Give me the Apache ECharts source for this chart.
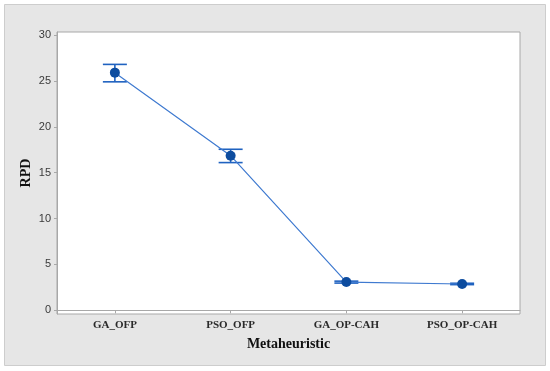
<!DOCTYPE html>
<html>
<head>
<meta charset="utf-8">
<script src="https://cdn.jsdelivr.net/npm/echarts@6/dist/echarts.min.js"></script>
<style>
html,body{margin:0;padding:0;background:#ffffff;}
#chart{width:550px;height:371px;}
</style>
</head>
<body>
<div id="chart"></div>
<script>
const categories = ['GA_OFP', 'PSO_OFP', 'GA_OP-CAH', 'PSO_OP-CAH'];
const means = [25.9, 16.85, 3.08, 2.87];
const lowerCI = [24.9, 16.1, 2.97, 2.80];
const upperCI = [26.8, 17.55, 3.18, 2.95];
const yTicks = [0, 5, 10, 15, 20, 25, 30];

const chart = echarts.init(document.getElementById('chart'), null, {renderer: 'canvas'});
const errData = categories.map((c, i) => [i, lowerCI[i], upperCI[i]]);

const option = {
  animation: false,
  backgroundColor: '#ffffff',
  graphic: [{
    type: 'rect', z: -10, silent: true,
    shape: {x: 4.5, y: 4.5, width: 541, height: 361},
    style: {fill: '#e6e6e6', stroke: '#cdcdcd', lineWidth: 1}
  }],
  grid: {
    left: 57, right: 30, top: 32, bottom: 57,
    show: true, backgroundColor: '#ffffff', borderColor: '#a8a8a8', borderWidth: 1
  },
  xAxis: {
    type: 'category',
    data: categories,
    boundaryGap: true,
    axisLine: {show: true, lineStyle: {color: '#a8a8a8', width: 1}},
    axisTick: {show: true, alignWithLabel: true, length: 3, lineStyle: {color: '#a8a8a8'}},
    axisLabel: {margin: 6, fontFamily: 'Liberation Serif', fontWeight: 'bold', fontSize: 11, color: '#2a2a2a'},
    splitLine: {show: false},
    name: 'Metaheuristic',
    nameLocation: 'middle',
    nameGap: 23,
    nameMoveOverlap: false,
    nameTextStyle: {fontFamily: 'Liberation Serif', fontWeight: 'bold', fontSize: 14, color: '#111111'}
  },
  yAxis: {
    type: 'value',
    min: -0.4,
    max: 30.33,
    axisLine: {show: true, lineStyle: {color: '#a8a8a8', width: 1}},
    axisTick: {show: true, length: 3, customValues: yTicks, lineStyle: {color: '#a8a8a8'}},
    axisLabel: {margin: 6, customValues: yTicks, fontFamily: 'Liberation Sans', fontSize: 11, color: '#3a3a3a'},
    splitLine: {show: false},
    name: 'RPD',
    nameLocation: 'middle',
    nameGap: 24,
    nameMoveOverlap: false,
    nameTextStyle: {fontFamily: 'Liberation Serif', fontWeight: 'bold', fontSize: 14, color: '#111111'}
  },
  series: [
    {
      type: 'line',
      data: means,
      symbol: 'circle',
      symbolSize: 10,
      itemStyle: {color: '#0d4c9f'},
      lineStyle: {color: '#3f7ad0', width: 1.2},
      z: 3
    },
    {
      type: 'custom',
      data: errData,
      z: 2,
      renderItem: function (params, api) {
        const x = api.value(0);
        const lo = api.coord([x, api.value(1)]);
        const hi = api.coord([x, api.value(2)]);
        const hw = 12;
        const st = {stroke: '#1f62c0', lineWidth: 1.6};
        return {
          type: 'group',
          children: [
            {type: 'line', shape: {x1: lo[0], y1: lo[1], x2: hi[0], y2: hi[1]}, style: st},
            {type: 'line', shape: {x1: lo[0] - hw, y1: lo[1], x2: lo[0] + hw, y2: lo[1]}, style: st},
            {type: 'line', shape: {x1: hi[0] - hw, y1: hi[1], x2: hi[0] + hw, y2: hi[1]}, style: st}
          ]
        };
      }
    }
  ]
};
chart.setOption(option);
</script>
</body>
</html>
